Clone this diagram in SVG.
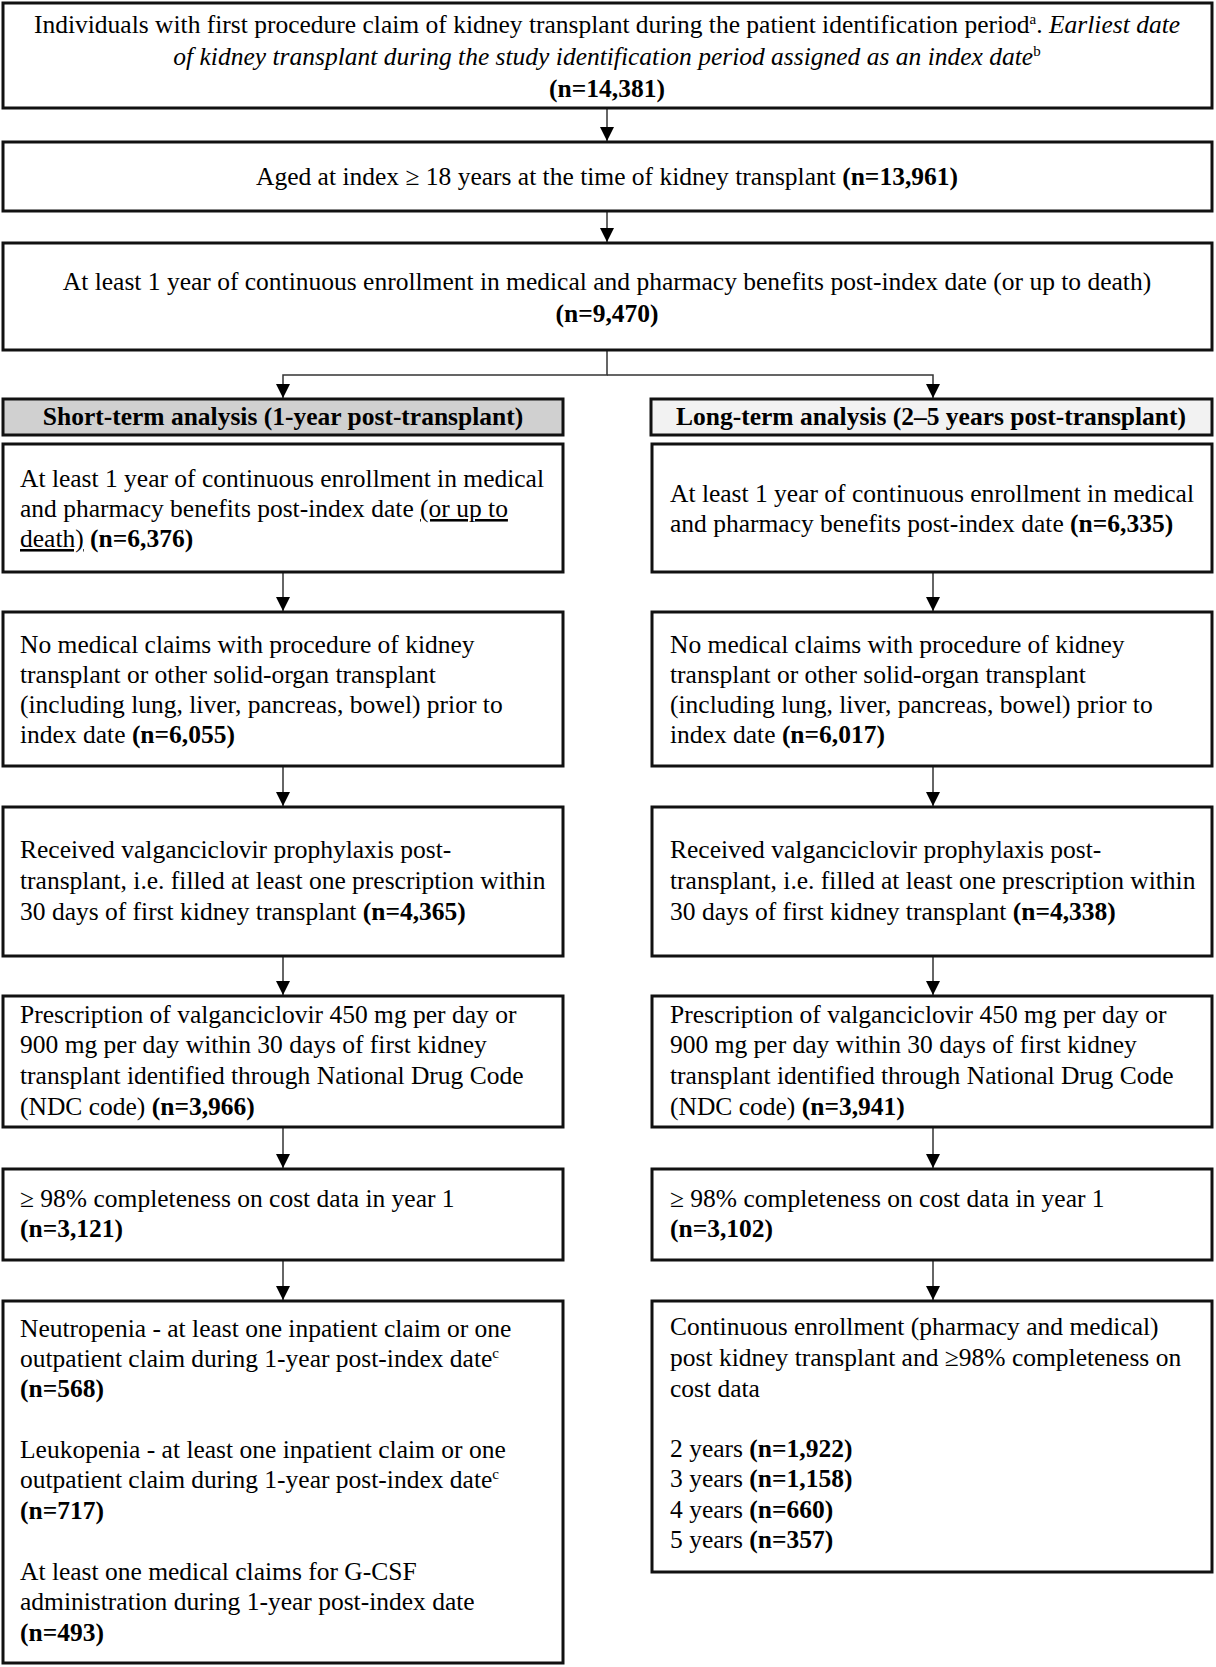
<svg xmlns="http://www.w3.org/2000/svg" width="1216" height="1667" viewBox="0 0 1216 1667">
<style>
.box{fill:#fff;stroke:#111;stroke-width:3}
.hl{fill:#d0d0d0;stroke:#111;stroke-width:3}
.hr{fill:#f2f2f2;stroke:#111;stroke-width:3}
text{font-family:"Liberation Serif","Times New Roman",serif;font-size:25.5px;fill:#000}
.c{text-anchor:middle}
.b{font-weight:bold}
.i{font-style:italic}
.u{text-decoration:underline}
.sup{font-size:15px;font-style:normal}
.con{fill:none;stroke:#333;stroke-width:1.5}
</style>
<defs>
<marker id="ah" markerUnits="userSpaceOnUse" markerWidth="14" markerHeight="16" refX="14" refY="7" orient="auto" viewBox="0 0 14 14">
<path d="M0,0 L14,7 L0,14 z" fill="#000"/>
</marker>
</defs>
<g id="connectors">
<line class="con" x1="607" y1="108" x2="607" y2="141" marker-end="url(#ah)"/>
<line class="con" x1="607" y1="211" x2="607" y2="242" marker-end="url(#ah)"/>
<polyline class="con" points="607,350 607,375 283,375 283,398" marker-end="url(#ah)"/>
<polyline class="con" points="607,375 933,375 933,398" marker-end="url(#ah)"/>
<line class="con" x1="283" y1="572" x2="283" y2="611" marker-end="url(#ah)"/>
<line class="con" x1="283" y1="766" x2="283" y2="806" marker-end="url(#ah)"/>
<line class="con" x1="283" y1="956" x2="283" y2="995" marker-end="url(#ah)"/>
<line class="con" x1="283" y1="1127" x2="283" y2="1168" marker-end="url(#ah)"/>
<line class="con" x1="283" y1="1260" x2="283" y2="1300" marker-end="url(#ah)"/>
<line class="con" x1="933" y1="572" x2="933" y2="611" marker-end="url(#ah)"/>
<line class="con" x1="933" y1="766" x2="933" y2="806" marker-end="url(#ah)"/>
<line class="con" x1="933" y1="956" x2="933" y2="995" marker-end="url(#ah)"/>
<line class="con" x1="933" y1="1127" x2="933" y2="1168" marker-end="url(#ah)"/>
<line class="con" x1="933" y1="1260" x2="933" y2="1300" marker-end="url(#ah)"/>
</g>
<g id="n-top">
<rect class="box" x="3" y="3" width="1209" height="105"/>
<text class="c" x="607" y="33">Individuals with first procedure claim of kidney transplant during the patient identification period<tspan class="sup" dy="-9">a</tspan><tspan dy="9">. </tspan><tspan class="i">Earliest date</tspan></text>
<text class="c i" x="607" y="65">of kidney transplant during the study identification period assigned as an index date<tspan class="sup" dy="-9">b</tspan></text>
<text class="c b" x="607" y="97">(n=14,381)</text>
</g>
<g id="n-age">
<rect class="box" x="3" y="142" width="1209" height="69"/>
<text class="c" x="607" y="185">Aged at index ≥ 18 years at the time of kidney transplant <tspan class="b">(n=13,961)</tspan></text>
</g>
<g id="n-enroll">
<rect class="box" x="3" y="243" width="1209" height="107"/>
<text class="c" x="607" y="290">At least 1 year of continuous enrollment in medical and pharmacy benefits post-index date (or up to death)</text>
<text class="c b" x="607" y="322">(n=9,470)</text>
</g>
<g id="h-short">
<rect class="hl" x="3" y="399" width="560" height="36"/>
<text class="c b" x="283" y="425">Short-term analysis (1-year post-transplant)</text>
</g>
<g id="h-long">
<rect class="hr" x="651" y="399" width="561" height="36"/>
<text class="c b" x="931" y="425">Long-term analysis (2–5 years post-transplant)</text>
</g>
<g id="s1">
<rect class="box" x="3" y="444" width="560" height="128"/>
<text x="20" y="487">At least 1 year of continuous enrollment in medical</text>
<text x="20" y="517">and pharmacy benefits post-index date <tspan class="u">(or up to</tspan></text>
<text x="20" y="547"><tspan class="u">death)</tspan> <tspan class="b">(n=6,376)</tspan></text>
</g>
<g id="s2">
<rect class="box" x="3" y="612" width="560" height="154"/>
<text x="20" y="653">No medical claims with procedure of kidney</text>
<text x="20" y="683">transplant or other solid-organ transplant</text>
<text x="20" y="713">(including lung, liver, pancreas, bowel) prior to</text>
<text x="20" y="743">index date <tspan class="b">(n=6,055)</tspan></text>
</g>
<g id="s3">
<rect class="box" x="3" y="807" width="560" height="149"/>
<text x="20" y="858">Received valganciclovir prophylaxis post-</text>
<text x="20" y="889">transplant, i.e. filled at least one prescription within</text>
<text x="20" y="920">30 days of first kidney transplant <tspan class="b">(n=4,365)</tspan></text>
</g>
<g id="s4">
<rect class="box" x="3" y="996" width="560" height="131"/>
<text x="20" y="1023">Prescription of valganciclovir 450 mg per day or</text>
<text x="20" y="1053">900 mg per day within 30 days of first kidney</text>
<text x="20" y="1084">transplant identified through National Drug Code</text>
<text x="20" y="1115">(NDC code) <tspan class="b">(n=3,966)</tspan></text>
</g>
<g id="s5">
<rect class="box" x="3" y="1169" width="560" height="91"/>
<text x="20" y="1207">≥ 98% completeness on cost data in year 1</text>
<text x="20" y="1237" class="b">(n=3,121)</text>
</g>
<g id="s6">
<rect class="box" x="3" y="1301" width="560" height="362"/>
<text x="20" y="1337">Neutropenia - at least one inpatient claim or one</text>
<text x="20" y="1367">outpatient claim during 1-year post-index date<tspan class="sup" dy="-9">c</tspan></text>
<text x="20" y="1397" class="b">(n=568)</text>
<text x="20" y="1458">Leukopenia - at least one inpatient claim or one</text>
<text x="20" y="1488">outpatient claim during 1-year post-index date<tspan class="sup" dy="-9">c</tspan></text>
<text x="20" y="1519" class="b">(n=717)</text>
<text x="20" y="1580">At least one medical claims for G-CSF</text>
<text x="20" y="1610">administration during 1-year post-index date</text>
<text x="20" y="1641" class="b">(n=493)</text>
</g>
<g id="l1">
<rect class="box" x="652" y="444" width="560" height="128"/>
<text x="670" y="502">At least 1 year of continuous enrollment in medical</text>
<text x="670" y="532">and pharmacy benefits post-index date <tspan class="b">(n=6,335)</tspan></text>
</g>
<g id="l2">
<rect class="box" x="652" y="612" width="560" height="154"/>
<text x="670" y="653">No medical claims with procedure of kidney</text>
<text x="670" y="683">transplant or other solid-organ transplant</text>
<text x="670" y="713">(including lung, liver, pancreas, bowel) prior to</text>
<text x="670" y="743">index date <tspan class="b">(n=6,017)</tspan></text>
</g>
<g id="l3">
<rect class="box" x="652" y="807" width="560" height="149"/>
<text x="670" y="858">Received valganciclovir prophylaxis post-</text>
<text x="670" y="889">transplant, i.e. filled at least one prescription within</text>
<text x="670" y="920">30 days of first kidney transplant <tspan class="b">(n=4,338)</tspan></text>
</g>
<g id="l4">
<rect class="box" x="652" y="996" width="560" height="131"/>
<text x="670" y="1023">Prescription of valganciclovir 450 mg per day or</text>
<text x="670" y="1053">900 mg per day within 30 days of first kidney</text>
<text x="670" y="1084">transplant identified through National Drug Code</text>
<text x="670" y="1115">(NDC code) <tspan class="b">(n=3,941)</tspan></text>
</g>
<g id="l5">
<rect class="box" x="652" y="1169" width="560" height="91"/>
<text x="670" y="1207">≥ 98% completeness on cost data in year 1</text>
<text x="670" y="1237" class="b">(n=3,102)</text>
</g>
<g id="l6">
<rect class="box" x="652" y="1301" width="560" height="271"/>
<text x="670" y="1335">Continuous enrollment (pharmacy and medical)</text>
<text x="670" y="1366">post kidney transplant and ≥98% completeness on</text>
<text x="670" y="1397">cost data</text>
<text x="670" y="1457">2 years <tspan class="b">(n=1,922)</tspan></text>
<text x="670" y="1487">3 years <tspan class="b">(n=1,158)</tspan></text>
<text x="670" y="1518">4 years <tspan class="b">(n=660)</tspan></text>
<text x="670" y="1548">5 years <tspan class="b">(n=357)</tspan></text>
</g>
</svg>
